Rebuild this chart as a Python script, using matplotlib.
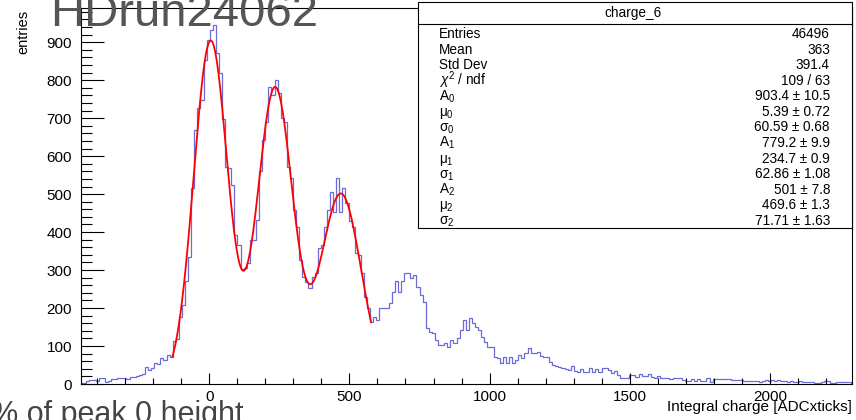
import numpy as np
import matplotlib
matplotlib.use("Agg")
import matplotlib.pyplot as plt
from matplotlib.patches import Rectangle
from matplotlib.lines import Line2D
from matplotlib.ticker import MultipleLocator

plt.rcParams['font.family'] = ['Liberation Sans', 'DejaVu Sans']
plt.rcParams['mathtext.fontset'] = 'custom'
plt.rcParams['mathtext.rm'] = 'Liberation Sans'
plt.rcParams['mathtext.it'] = 'Liberation Sans:italic'
plt.rcParams['mathtext.bf'] = 'Liberation Sans:bold'

# ---------------- data ----------------
x_min = -460.0
bin_width = 11.0
counts = [
    2, 3, 9, 10, 10, 9, 17, 15, 4, 9,
    13, 14, 17, 15, 16, 14, 18, 19, 22, 24,
    26, 45, 36, 42, 55, 53, 68, 64, 76, 70,
    114, 118, 176, 208, 270, 335, 515, 668, 726, 748,
    853, 905, 932, 944, 871, 818, 699, 571, 568, 524,
    393, 366, 302, 305, 318, 378, 378, 432, 560, 643,
    691, 782, 762, 800, 765, 700, 691, 572, 542, 458,
    414, 326, 282, 269, 252, 282, 291, 357, 366, 414,
    458, 506, 452, 542, 452, 515, 476, 428, 414, 344,
    340, 292, 230, 199, 164, 177, 168, 199, 199, 199,
    212, 243, 270, 243, 270, 292, 292, 278, 287, 256,
    234, 217, 147, 138, 134, 116, 103, 103, 107, 98,
    116, 107, 120, 142, 168, 142, 175, 160, 151, 142,
    124, 111, 98, 98, 72, 68, 54, 72, 54, 72,
    54, 63, 76, 68, 81, 94, 81, 81, 83, 74,
    72, 72, 59, 50, 48, 45, 42, 40, 38, 47,
    34, 32, 39, 32, 32, 41, 32, 39, 32, 41,
    41, 37, 28, 35, 24, 17, 17, 17, 24, 24,
    19, 26, 22, 22, 26, 19, 15, 21, 17, 17,
    17, 13, 15, 15, 15, 10, 8, 8, 13, 9,
    13, 9, 9, 15, 6, 12, 13, 13, 14, 13,
    12, 11, 11, 10, 11, 8, 7, 7, 9, 7,
    6, 8, 10, 9, 11, 8, 10, 7, 9, 6,
    8, 6, 5, 7, 6, 5, 6, 4, 3, 3,
    4, 7, 7, 2, 3, 6, 6, 5, 4, 5,
]

fit_A = [903.4, 779.2, 501.0]
fit_mu = [5.39, 234.7, 469.6]
fit_sigma = [60.59, 62.86, 71.71]
fit_lo, fit_hi = -131.0, 577.0

stat_title = "charge_6"
stat_labels = ["Entries", "Mean", "Std Dev", r"$\chi^{2}$ / ndf",
               r"A$_{0}$", r"μ$_{0}$", r"σ$_{0}$",
               r"A$_{1}$", r"μ$_{1}$", r"σ$_{1}$",
               r"A$_{2}$", r"μ$_{2}$", r"σ$_{2}$"]
stat_values = ["46496", "363", "391.4", "109 / 63",
               "903.4 ± 10.5", "5.39 ± 0.72", "60.59 ± 0.68",
               "779.2 ± 9.9", "234.7 ± 0.9", "62.86 ± 1.08",
               "501 ± 7.8", "469.6 ± 1.3", "71.71 ± 1.63"]

title_text = "HDrun24062"
note_text = "% of peak 0 height"
x_label = "Integral charge [ADCxticks]"
y_label = "entries"

# ---------------- figure ----------------
W, H = 856, 420
fig = plt.figure(figsize=(W / 100, H / 100), dpi=100)

def fx(px):
    return px / W

def fy(py):
    return 1 - py / H

ax_l, ax_r, ax_t, ax_b = 81, 852, 8, 384
ax = fig.add_axes([fx(ax_l), fy(ax_b), fx(ax_r) - fx(ax_l), fy(ax_t) - fy(ax_b)])

edges = x_min + bin_width * np.arange(len(counts) + 1)
ax.stairs(counts, edges, color="#6a6ad8", lw=0.9)

xs = np.linspace(fit_lo, fit_hi, 600)
ys = np.zeros_like(xs)
for A, m, s in zip(fit_A, fit_mu, fit_sigma):
    ys += A * np.exp(-0.5 * ((xs - m) / s) ** 2)
ax.plot(xs, ys, color="#ff0000", lw=1.3)

ax.set_xlim(-457, 2292)
ax.set_ylim(0, 990)

for sp in ax.spines.values():
    sp.set_linewidth(0.8)

ax.xaxis.set_major_locator(MultipleLocator(500))
ax.xaxis.set_minor_locator(MultipleLocator(100))
ax.yaxis.set_major_locator(MultipleLocator(100))
ax.yaxis.set_minor_locator(MultipleLocator(20))
ax.tick_params(axis='x', which='major', direction='in', length=8, width=0.8,
               labelsize=11, pad=4, top=False)
ax.tick_params(axis='x', which='minor', direction='in', length=4.3, width=0.8, top=False)
ax.tick_params(axis='y', which='major', direction='in', length=16.5, width=0.8,
               labelsize=11, pad=6.5, right=False)
ax.tick_params(axis='y', which='minor', direction='in', length=8, width=0.8, right=False)

# axis titles
fig.text(fx(852), fy(410.5), x_label, ha='right', va='baseline', fontsize=11)
fig.text(fx(23), fy(10), y_label, ha='center', va='top', rotation=90, fontsize=10.5)

# title and note
fig.text(fx(50), fy(26), title_text, ha='left', va='baseline', fontsize=34, color='#555555')
fig.text(fx(-9), fy(423.5), note_text, ha='left', va='baseline', fontsize=22, color='#444444')

# stats box
bx0, bx1, by0, by1 = 418, 852, 2, 228
fig.patches.append(Rectangle((fx(bx0), fy(by1)), fx(bx1) - fx(bx0), fy(by0) - fy(by1),
                             transform=fig.transFigure, facecolor='white',
                             edgecolor='black', lw=0.8, zorder=5))
fig.lines.append(Line2D([fx(bx0), fx(bx1)], [fy(24), fy(24)], transform=fig.transFigure,
                        color='black', lw=0.8, zorder=6))
fig.text(fx(633), fy(13.5), stat_title, ha='center', va='center', fontsize=9.8, zorder=7)
row0, drow = 33.3, 15.56
for k, (lab, val) in enumerate(zip(stat_labels, stat_values)):
    yb = row0 + drow * k + 4.8
    fig.text(fx(439), fy(yb), lab, ha='left', va='baseline', fontsize=9.8, zorder=7)
    fig.text(fx(830), fy(yb), val, ha='right', va='baseline', fontsize=9.8, zorder=7)

fig.savefig("out.png", dpi=100)
